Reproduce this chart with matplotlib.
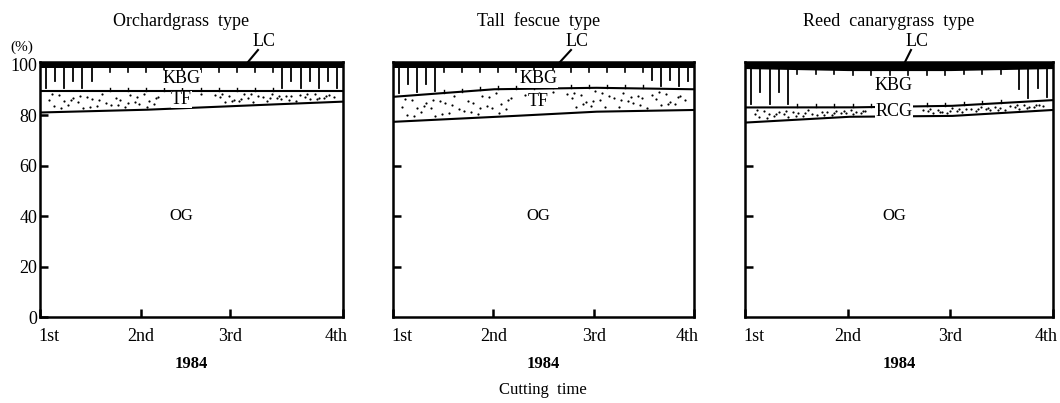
import numpy as np
import matplotlib
matplotlib.use("Agg")
import matplotlib.pyplot as plt
import matplotlib.transforms as mtrans

plt.rcParams['font.family'] = ['Liberation Serif', 'DejaVu Serif']

# cutting times (1984)
cuts = ['1st', '2nd', '3rd', '4th']
x_og = [0, 1, 1.88, 3]   # first panel axis is drawn a bit unevenly
x_tf = [0, 1, 2, 3]
x_rcg = [0, 1, 2, 3]

titles = ['Orchardgrass  type', 'Tall  fescue  type', 'Reed  canarygrass  type']
sown = ['TF', 'TF', 'RCG']

# cumulative upper boundaries (%)
og_top = [[81.0, 82.0, 83.5, 85.3],
          [77.3, 79.2, 81.3, 82.0],
          [77.0, 79.3, 79.6, 82.0]]
mid_top = [[89.6, 89.6, 89.6, 89.6],
           [87.2, 90.2, 90.8, 90.2],
           [83.0, 83.0, 83.6, 85.9]]
kbg_top = [[98.8, 98.8, 98.8, 98.8],
           [98.8, 98.8, 98.8, 98.8],
           [98.4, 97.6, 97.6, 98.4]]
lc_top = [101, 101, 101]

xs_all = [x_og, x_tf, x_rcg]
lefts = [40, 393, 745]
widths = [303, 301, 308]
title_x = [0.465, 0.482, 0.468]
long_zone = [(0.55, 2.37), (0.47, 2.53), (0.45, 2.58)]
lc_lab = [(264, 248), (577, 560), (917, 905)]


def halton(n, b):
    out = []
    for k in range(1, n + 1):
        f, r = 1.0, 0.0
        while k > 0:
            f /= b
            r += f * (k % b)
            k //= b
        out.append(r)
    return np.array(out)


hx = halton(90, 2) * 3
hy = halton(90, 3)

fig = plt.figure(figsize=(10.6, 4.03), dpi=100)
W, H = 1060, 403

for i in range(3):
    ax = fig.add_axes([lefts[i] / W, (H - 317) / H, widths[i] / W, 255 / H])
    xs = np.array(xs_all[i], dtype=float)
    xx = np.linspace(0, 3, 301)
    og = np.interp(xx, xs, og_top[i])
    md = np.interp(xx, xs, mid_top[i])
    kb = np.interp(xx, xs, kbg_top[i])

    ax.fill_between(xx, kb, lc_top[i], color='black', lw=0)
    ax.plot(xx, og, color='black', lw=1.5)
    ax.plot(xx, md, color='black', lw=1.5)

    # stipple in the sown-grass band
    lo_b = np.interp(hx, xx, og)
    hi_b = np.interp(hx, xx, md)
    dy = lo_b + 1.0 + hy * (hi_b - lo_b - 2.0)
    keep = (hx > 0.05) & (hx < 2.95) & ((hx < 1.2) | (hx > 1.75) | (hy > 0.8))
    ax.scatter(hx[keep], dy[keep], s=2.5, color='black', lw=0)

    # KBG comb texture hanging from the LC band
    lo, hi = long_zone[i]
    k = 0
    for xv in np.arange(0.06, 3.0, 0.09):
        top = np.interp(xv, xx, kb)
        bot = np.interp(xv, xx, md)
        if xv < lo or xv > hi:
            end = bot + 1.2 if k % 2 == 0 else bot + (top - bot) * 0.4
            ax.plot([xv, xv], [top, end], color='black', lw=1.3)
            k += 1
        elif int(round(xv / 0.09)) % 2 == 0:
            ax.plot([xv, xv], [top, top - 1.6], color='black', lw=1.2)
            ax.plot([xv, xv], [bot, bot + 1.2], color='black', lw=1.0)

    ax.set_xlim(0, 3)
    ax.set_ylim(0, 101)
    for s in ax.spines.values():
        s.set_linewidth(1.8)
    ax.set_xticks(xs)
    ax.set_xticklabels(cuts, fontsize=13)
    ax.tick_params(direction='in', length=6, width=1.8)
    ax.tick_params(axis='x', pad=8)
    labs = ax.get_xticklabels()
    labs[0].set_transform(labs[0].get_transform() + mtrans.ScaledTranslation(0.09, 0, fig.dpi_scale_trans))
    labs[-1].set_transform(labs[-1].get_transform() + mtrans.ScaledTranslation(-0.07, 0, fig.dpi_scale_trans))
    if i == 0:
        ax.set_yticks([0, 20, 40, 60, 80, 100])
        ax.set_yticklabels(['0', '20', '40', '60', '80', '100'], fontsize=13)
        ax.tick_params(axis='y', pad=2)
    else:
        ax.set_yticks([20, 40, 60])
        ax.set_yticklabels([])
    ax.set_title(titles[i], fontsize=13, pad=26)
    ax.title.set_x(title_x[i])
    ax.set_xlabel('1984', fontsize=12, fontweight='bold', labelpad=8)

    box = dict(facecolor='white', edgecolor='none', pad=0.2)
    cx = 1.4 if i == 0 else 1.45
    ax.text(cx, 40, 'OG', ha='center', va='center', fontsize=12)
    ax.text(cx, 94.3 if i < 2 else 91.5, 'KBG', ha='center', va='center', fontsize=13, bbox=box)
    if i < 2:
        ax.text(cx, 86.2 if i == 0 else 85.4, sown[i], ha='center', va='center', fontsize=13, bbox=box)
    else:
        ax.text(cx, 81.4, sown[i], ha='center', va='center', fontsize=13, bbox=box)

    # LC label with leader
    tx, lx = lc_lab[i]
    fig.text(tx / W, 1 - 42 / H, 'LC', ha='center', va='center', fontsize=13)
    fig.add_artist(plt.Line2D([(tx - 6) / W, (lx) / W], [1 - 50 / H, 1 - 62 / H],
                              color='black', lw=1.5))

fig.text(22 / W, 1 - 47 / H, '(%)', ha='center', va='center', fontsize=11)
fig.text(543 / W, 1 - 390 / H, 'Cutting  time', ha='center', va='center', fontsize=12)

fig.savefig('out.png', dpi=100, facecolor='white')
